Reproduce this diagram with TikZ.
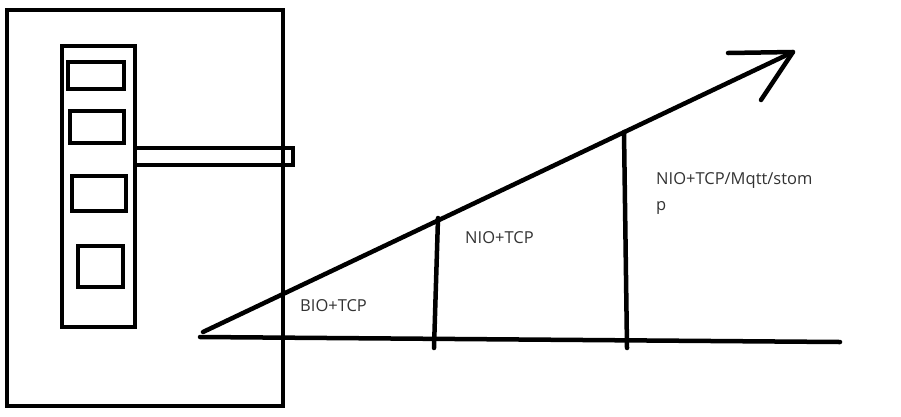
\documentclass[tikz,border=0pt]{standalone}
\usepackage{fontspec}
\setmainfont{Open Sans}
\begin{document}
\begin{tikzpicture}[x=1pt,y=-1pt,
  thick line/.style={line width=4.5pt,line cap=round,line join=round},
  box/.style={line width=3.8pt},
  lbl/.style={anchor=base west,inner sep=0pt,text=black!80,font=\fontsize{16.5}{26}\selectfont}]
\useasboundingbox[fill=white] (0,0) rectangle (901,416);
% outer frame
\draw[box,line width=4.2pt] (7,10) rectangle (283,406);
% tall inner panel
\draw[box] (62,46) rectangle (135,327);
% small boxes
\draw[box] (68,62) rectangle (124,89);
\draw[box] (70,111) rectangle (124,143);
\draw[box] (72,176) rectangle (126,211);
\draw[box] (78,246) rectangle (123,287);
% bar
\draw[line width=3.2pt] (135,148) rectangle (293,165);
% graph
\coordinate (start) at (203,332);
\coordinate (tip) at (793,52);
\coordinate (hd1) at (728,53);
\coordinate (hd2) at (761,100);
\coordinate (b0) at (200,337);
\coordinate (b1) at (840,342);
\coordinate (v1t) at (438,218);
\coordinate (v1b) at (434,348);
\coordinate (v2t) at (624,132);
\coordinate (v2b) at (627,348);
\draw[thick line] (start) -- (tip);
\draw[thick line] (hd1) -- (tip) -- (hd2);
\draw[thick line] (b0) -- (b1);
\draw[thick line] (v1t) -- (v1b);
\draw[thick line] (v2t) -- (v2b);
\node[lbl] (bio) at (300,311) {BIO+TCP};
\node[lbl] (nio) at (465,243) {NIO+TCP};
\node[lbl] (mq) at (656,184) {NIO+TCP/Mqtt/stom};
\node[lbl] (p) at (656,210) {p};
\end{tikzpicture}
\end{document}
